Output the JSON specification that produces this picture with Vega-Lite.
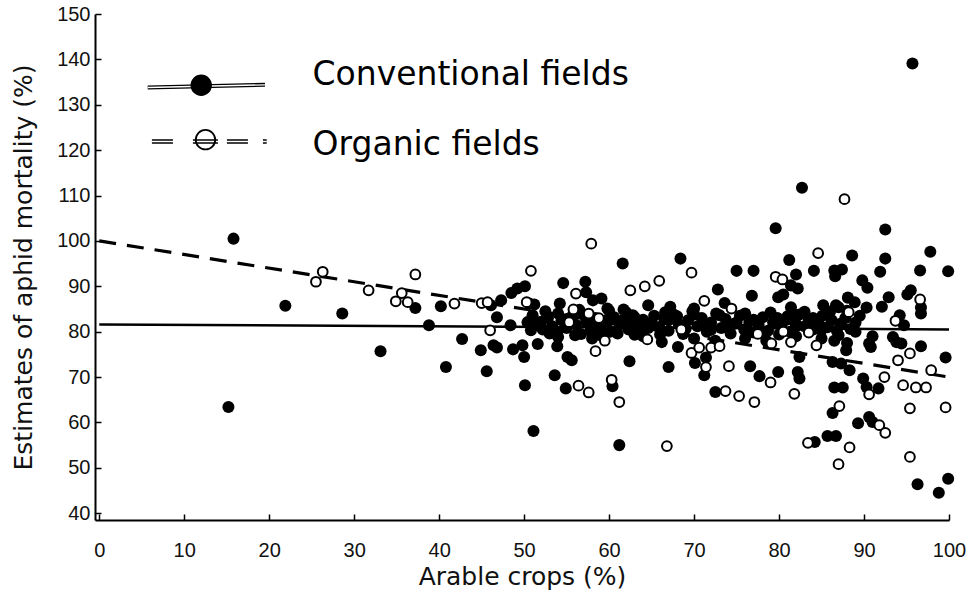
{
  "$schema": "https://vega.github.io/schema/vega-lite/v6.json",
  "width": 854,
  "height": 506,
  "autosize": "none",
  "padding": {"left": 95, "top": 14, "right": 22, "bottom": 79},
  "background": "white",
  "config": {"view": {"stroke": null}},
  "datasets": {
    "conv": [
      {"x":15.8,"y":100.5},{"x":15.2,"y":63.4},{"x":21.9,"y":85.7},{"x":28.6,"y":84.0},{"x":33.1,"y":75.7},{"x":37.2,"y":85.2},{"x":40.2,"y":85.6},{"x":38.8,"y":81.4},{"x":42.7,"y":78.4},{"x":40.8,"y":72.2},
      {"x":46.1,"y":85.8},{"x":47.3,"y":86.9},{"x":46.8,"y":83.2},{"x":44.9,"y":75.9},{"x":46.4,"y":77.0},{"x":46.8,"y":76.5},{"x":45.6,"y":71.3},{"x":48.5,"y":88.5},{"x":49.2,"y":89.5},{"x":50.1,"y":90.0},
      {"x":50.6,"y":86.2},{"x":48.4,"y":81.4},{"x":50.4,"y":82.1},{"x":50.8,"y":80.3},{"x":51.4,"y":81.4},{"x":48.7,"y":76.1},{"x":49.8,"y":77.0},{"x":50.0,"y":74.4},{"x":50.1,"y":68.2},{"x":51.1,"y":58.1},
      {"x":51.6,"y":77.3},{"x":54.6,"y":90.7},{"x":57.2,"y":91.0},{"x":57.3,"y":88.7},{"x":59.1,"y":87.3},{"x":58.1,"y":86.9},{"x":54.2,"y":86.2},{"x":59.8,"y":85.1},{"x":53.9,"y":76.8},{"x":55.1,"y":74.4},
      {"x":55.6,"y":73.7},{"x":53.6,"y":70.4},{"x":54.9,"y":67.5},{"x":60.4,"y":68.0},{"x":61.2,"y":55.0},{"x":61.6,"y":95.0},{"x":64.6,"y":85.8},{"x":61.7,"y":84.9},{"x":62.8,"y":83.6},{"x":51.2,"y":86.0},
      {"x":62.4,"y":73.5},{"x":68.4,"y":96.1},{"x":75.0,"y":93.4},{"x":77.0,"y":93.4},{"x":72.8,"y":89.3},{"x":76.8,"y":87.9},{"x":73.6,"y":86.3},{"x":70.0,"y":85.1},{"x":66.6,"y":84.3},{"x":66.2,"y":77.7},
      {"x":68.1,"y":76.6},{"x":70.1,"y":73.1},{"x":71.4,"y":74.3},{"x":71.2,"y":70.4},{"x":67.0,"y":72.2},{"x":76.6,"y":72.4},{"x":77.7,"y":70.2},{"x":72.5,"y":66.7},{"x":79.9,"y":71.1},{"x":81.2,"y":95.8},
      {"x":79.6,"y":102.8},{"x":82.0,"y":92.6},{"x":79.9,"y":87.6},{"x":82.7,"y":111.7},{"x":88.6,"y":96.8},{"x":84.1,"y":93.4},{"x":86.5,"y":93.5},{"x":87.4,"y":93.7},{"x":86.6,"y":92.2},{"x":81.4,"y":90.2},
      {"x":82.2,"y":89.5},{"x":80.5,"y":88.2},{"x":89.8,"y":91.3},{"x":85.2,"y":85.8},{"x":86.7,"y":85.8},{"x":87.0,"y":85.4},{"x":88.1,"y":87.5},{"x":88.9,"y":86.5},{"x":81.4,"y":85.4},{"x":81.6,"y":84.0},
      {"x":82.4,"y":74.4},{"x":87.9,"y":75.9},{"x":86.3,"y":73.3},{"x":87.3,"y":73.0},{"x":88.3,"y":71.5},{"x":82.2,"y":71.1},{"x":82.4,"y":69.7},{"x":86.5,"y":67.7},{"x":87.5,"y":67.7},{"x":86.3,"y":62.1},
      {"x":89.3,"y":59.8},{"x":85.7,"y":57.0},{"x":86.7,"y":57.0},{"x":84.2,"y":55.7},{"x":92.5,"y":102.5},{"x":97.8,"y":97.6},{"x":92.5,"y":96.1},{"x":91.9,"y":93.2},{"x":96.6,"y":93.5},{"x":99.9,"y":93.3},
      {"x":90.4,"y":89.7},{"x":92.9,"y":87.6},{"x":95.5,"y":89.1},{"x":95.1,"y":88.2},{"x":96.7,"y":85.3},{"x":96.7,"y":84.0},{"x":90.3,"y":85.3},{"x":92.1,"y":85.5},{"x":94.2,"y":83.6},{"x":94.7,"y":81.4},
      {"x":91.0,"y":79.0},{"x":90.6,"y":77.4},{"x":90.8,"y":76.6},{"x":93.4,"y":78.8},{"x":93.8,"y":77.7},{"x":94.4,"y":77.4},{"x":96.7,"y":76.8},{"x":99.6,"y":74.3},{"x":89.9,"y":69.7},{"x":90.3,"y":67.8},
      {"x":91.7,"y":67.5},{"x":90.6,"y":61.2},{"x":91.0,"y":60.1},{"x":96.3,"y":46.4},{"x":98.8,"y":44.5},{"x":99.9,"y":47.6},{"x":95.7,"y":139.1},
      {"x":51.5,"y":82.0},{"x":52.2,"y":80.5},{"x":52.8,"y":83.0},{"x":53.3,"y":81.2},{"x":53.9,"y":79.8},{"x":54.4,"y":82.5},{"x":55.0,"y":80.8},{"x":55.6,"y":83.3},{"x":56.1,"y":81.5},{"x":56.7,"y":79.5},
      {"x":57.3,"y":82.2},{"x":57.8,"y":80.2},{"x":58.4,"y":83.0},{"x":59.0,"y":81.0},{"x":59.5,"y":82.4},{"x":60.1,"y":80.0},{"x":60.6,"y":83.2},{"x":61.2,"y":81.5},{"x":61.8,"y":82.8},{"x":62.3,"y":80.5},
      {"x":62.9,"y":82.0},{"x":63.5,"y":81.0},{"x":64.0,"y":82.6},{"x":64.6,"y":80.8},{"x":52.5,"y":84.5},{"x":54.0,"y":78.8},{"x":56.5,"y":84.8},{"x":58.0,"y":78.5},{"x":60.0,"y":84.6},{"x":63.0,"y":79.3},
      {"x":65.3,"y":83.5},{"x":65.9,"y":81.0},{"x":66.5,"y":82.8},{"x":67.0,"y":80.2},{"x":67.6,"y":83.8},{"x":68.2,"y":81.6},{"x":68.7,"y":79.5},{"x":69.3,"y":82.5},{"x":69.8,"y":84.5},{"x":70.4,"y":81.2},
      {"x":70.9,"y":83.0},{"x":71.5,"y":80.0},{"x":72.0,"y":82.0},{"x":72.6,"y":84.0},{"x":73.2,"y":80.8},{"x":73.7,"y":82.8},{"x":74.3,"y":79.6},{"x":74.8,"y":81.8},{"x":75.4,"y":83.5},{"x":75.9,"y":80.5},
      {"x":76.5,"y":82.2},{"x":77.0,"y":79.8},{"x":77.6,"y":81.5},{"x":78.1,"y":83.2},{"x":78.7,"y":80.2},{"x":79.3,"y":82.0},{"x":67.2,"y":85.5},{"x":70.0,"y":78.5},{"x":72.5,"y":78.0},{"x":76.0,"y":78.5},
      {"x":78.5,"y":78.0},{"x":79.8,"y":83.0},{"x":80.3,"y":81.0},{"x":80.8,"y":82.6},{"x":81.3,"y":80.0},{"x":81.9,"y":82.0},{"x":82.4,"y":83.8},{"x":83.0,"y":81.2},{"x":83.5,"y":82.8},{"x":84.0,"y":80.5},
      {"x":84.6,"y":82.0},{"x":85.1,"y":83.5},{"x":85.7,"y":81.0},{"x":86.2,"y":82.5},{"x":86.8,"y":80.2},{"x":87.3,"y":81.8},{"x":87.8,"y":83.0},{"x":88.4,"y":80.6},{"x":89.0,"y":82.0},{"x":82.0,"y":79.0},
      {"x":85.0,"y":78.5},{"x":86.5,"y":78.0},{"x":88.0,"y":77.5},
      {"x":51.0,"y":83.6},{"x":52.0,"y":82.2},{"x":53.0,"y":79.6},{"x":54.0,"y":84.0},{"x":55.0,"y":82.8},{"x":56.0,"y":79.2},{"x":57.0,"y":83.8},{"x":58.0,"y":81.8},{"x":59.0,"y":79.2},{"x":60.0,"y":82.4},
      {"x":61.0,"y":79.6},{"x":62.0,"y":84.3},{"x":63.0,"y":83.2},{"x":64.0,"y":79.0},{"x":65.0,"y":82.0},{"x":66.0,"y":79.4},{"x":67.0,"y":82.6},{"x":68.0,"y":83.4},{"x":69.0,"y":80.6},{"x":70.0,"y":83.8},
      {"x":71.0,"y":81.6},{"x":72.0,"y":80.4},{"x":73.0,"y":83.6},{"x":74.0,"y":81.2},{"x":75.0,"y":82.0},{"x":76.0,"y":84.0},{"x":77.0,"y":82.6},{"x":78.0,"y":79.6},{"x":79.0,"y":84.2},{"x":80.0,"y":79.4},
      {"x":81.0,"y":83.4},{"x":82.0,"y":81.2},{"x":83.0,"y":84.4},{"x":84.0,"y":83.0},{"x":85.0,"y":80.4},{"x":86.0,"y":84.4},{"x":87.0,"y":79.2},{"x":88.0,"y":84.6},{"x":89.0,"y":80.0},{"x":89.5,"y":83.5}
    ],
    "org": [
      {"x":26.3,"y":93.2},{"x":25.5,"y":91.0},{"x":31.7,"y":89.1},{"x":34.9,"y":86.7},{"x":35.6,"y":88.5},{"x":36.3,"y":86.5},{"x":37.2,"y":92.6},{"x":41.8,"y":86.2},{"x":45.0,"y":86.3},{"x":45.7,"y":86.5},
      {"x":46.0,"y":80.3},{"x":50.8,"y":93.4},{"x":50.3,"y":86.5},{"x":57.9,"y":99.4},{"x":56.1,"y":88.4},{"x":55.8,"y":84.9},{"x":57.6,"y":84.0},{"x":59.5,"y":78.0},{"x":58.4,"y":75.7},{"x":56.4,"y":68.1},
      {"x":57.6,"y":66.6},{"x":60.3,"y":69.4},{"x":61.2,"y":64.5},{"x":62.5,"y":89.1},{"x":64.2,"y":90.0},{"x":65.9,"y":91.2},{"x":55.3,"y":82.1},{"x":64.5,"y":78.3},{"x":66.8,"y":54.8},{"x":69.7,"y":93.0},
      {"x":71.2,"y":86.8},{"x":74.4,"y":85.1},{"x":69.7,"y":75.3},{"x":70.6,"y":76.5},{"x":72.0,"y":76.5},{"x":73.0,"y":76.8},{"x":71.4,"y":72.2},{"x":74.1,"y":72.4},{"x":79.0,"y":68.8},{"x":73.7,"y":66.9},
      {"x":75.3,"y":65.8},{"x":77.1,"y":64.5},{"x":81.8,"y":66.3},{"x":79.6,"y":92.1},{"x":80.4,"y":91.5},{"x":87.7,"y":109.2},{"x":84.6,"y":97.3},{"x":88.2,"y":84.3},{"x":84.4,"y":77.0},{"x":81.4,"y":77.7},
      {"x":79.1,"y":77.4},{"x":87.1,"y":63.6},{"x":83.4,"y":55.5},{"x":88.3,"y":54.5},{"x":87.0,"y":50.8},{"x":96.6,"y":87.1},{"x":93.7,"y":82.4},{"x":95.4,"y":75.2},{"x":94.0,"y":73.7},{"x":97.9,"y":71.5},
      {"x":92.4,"y":70.0},{"x":90.6,"y":66.2},{"x":94.6,"y":68.2},{"x":96.1,"y":67.7},{"x":97.3,"y":67.7},{"x":95.4,"y":63.1},{"x":99.6,"y":63.3},{"x":91.8,"y":59.4},{"x":92.5,"y":57.7},{"x":95.4,"y":52.4},
      {"x":68.5,"y":80.5},{"x":77.5,"y":79.5},{"x":80.5,"y":80.0},{"x":83.5,"y":79.8},{"x":58.8,"y":83.0}
    ],
    "fitConv": [{"x":0,"y":81.6},{"x":100,"y":80.5}],
    "fitOrg": [{"x":0,"y":100},{"x":100,"y":70}],
    "legConvLine": [{"x":5.7,"y":133.8},{"x":19.5,"y":134.4}],
    "legConvPt": [{"x":12.0,"y":134.3}],
    "legOrgLine": [{"x":6.2,"y":121.9},{"x":19.7,"y":121.9}],
    "legOrgPt": [{"x":12.5,"y":122.3}],
    "legText": [{"x":25.1,"y":136.5,"label":"Conventional fields"},{"x":25.1,"y":121.2,"label":"Organic fields"}]
  },
  "encoding": {
    "x": {
      "field": "x", "type": "quantitative",
      "scale": {"domain": [-0.5, 100], "nice": false, "zero": false},
      "axis": {
        "title": "Arable crops (%)",
        "values": [0,10,20,30,40,50,60,70,80,90,100],
        "format": "d",
        "grid": false,
        "domainColor": "#000", "domainWidth": 2,
        "tickColor": "#000", "tickWidth": 1.5, "tickSize": -6,
        "labelFont": "Liberation Sans", "labelFontSize": 20, "labelColor": "#111",
        "labelPadding": 26, "labelFlush": false, "labelOverlap": false,
        "titleFont": "DejaVu Sans", "titleFontSize": 25, "titleFontWeight": "normal", "titleColor": "#111",
        "titlePadding": 4
      }
    },
    "y": {
      "field": "y", "type": "quantitative",
      "scale": {"domain": [38.5, 150], "nice": false, "zero": false},
      "axis": {
        "title": "Estimates of aphid mortality (%)",
        "values": [40,50,60,70,80,90,100,110,120,130,140,150],
        "format": "d",
        "grid": false,
        "domainColor": "#000", "domainWidth": 2,
        "tickColor": "#000", "tickWidth": 1.5, "tickSize": -6,
        "labelFont": "Liberation Sans", "labelFontSize": 20, "labelColor": "#111",
        "labelPadding": 11, "labelFlush": false, "labelOverlap": false,
        "titleFont": "DejaVu Sans", "titleFontSize": 25, "titleFontWeight": "normal", "titleColor": "#111",
        "titlePadding": 20
      }
    }
  },
  "layer": [
    {"data": {"name": "conv"}, "mark": {"type": "circle", "size": 145, "color": "#000", "opacity": 1}},
    {"data": {"name": "fitConv"}, "mark": {"type": "line", "color": "#000", "strokeWidth": 2.5}},
    {"data": {"name": "fitOrg"}, "mark": {"type": "line", "color": "#000", "strokeWidth": 3.2, "strokeDash": [17, 11]}},
    {"data": {"name": "org"}, "mark": {"type": "point", "shape": "circle", "size": 95, "filled": false, "fill": "#fff", "fillOpacity": 1, "stroke": "#000", "strokeWidth": 2, "opacity": 1}},
    {"data": {"name": "legConvLine"}, "mark": {"type": "line", "color": "#000", "strokeWidth": 4}},
    {"data": {"name": "legConvLine"}, "mark": {"type": "line", "color": "#fff", "strokeWidth": 1.3}},
    {"data": {"name": "legConvPt"}, "mark": {"type": "circle", "size": 460, "color": "#000", "opacity": 1}},
    {"data": {"name": "legOrgLine"}, "mark": {"type": "line", "color": "#000", "strokeWidth": 4.5, "strokeDash": [21, 20, 25, 9, 21, 15, 4, 100]}},
    {"data": {"name": "legOrgLine"}, "mark": {"type": "line", "color": "#fff", "strokeWidth": 1.3}},
    {"data": {"name": "legOrgPt"}, "mark": {"type": "point", "shape": "circle", "size": 380, "filled": false, "stroke": "#000", "strokeWidth": 1.8, "opacity": 1}},
    {"data": {"name": "legText"}, "mark": {"type": "text", "align": "left", "baseline": "middle", "font": "DejaVu Sans", "fontSize": 33, "color": "#000"}, "encoding": {"text": {"field": "label"}}}
  ]
}
